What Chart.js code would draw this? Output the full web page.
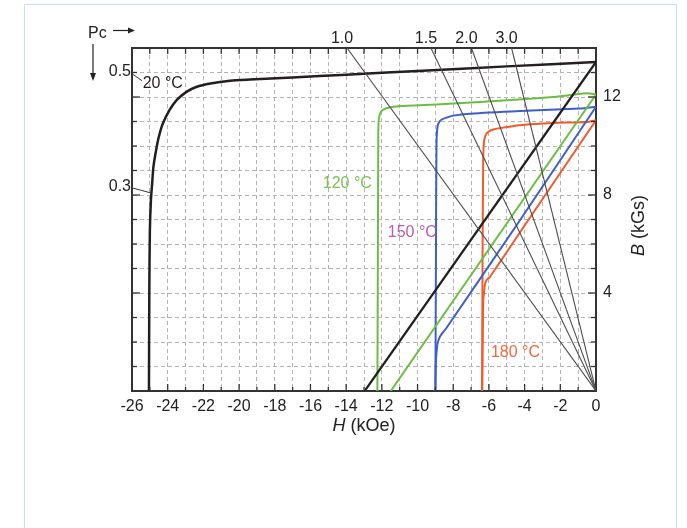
<!DOCTYPE html>
<html><head><meta charset="utf-8">
<script src="https://cdn.jsdelivr.net/npm/chart.js@4.4.1/dist/chart.umd.min.js"></script>
<style>
html,body{margin:0;padding:0;background:#fff;}
#wrap{position:relative;width:687px;height:528px;overflow:hidden;}
#frame{position:absolute;left:24px;top:4px;width:653px;height:600px;border:1px solid #cddfee;box-sizing:border-box;}
canvas{position:absolute;left:0;top:0;}
</style></head><body>
<div id="wrap"><div id="frame"></div><canvas id="c" width="687" height="528"></canvas></div>
<script>
// ---------- data (H in kOe, B in kGs) ----------
const H20  = [0, -5, -10, -14, -17, -19.4, -20.5, -21.6, -22.4, -22.95, -23.5, -23.9, -24.27, -24.5, -24.65, -24.8, -24.87, -24.94, -25.0, -25.03, -25.05];
const B20  = [13.43, 13.25, 13.06, 12.91, 12.8, 12.71, 12.66, 12.55, 12.41, 12.21, 11.87, 11.46, 10.92, 10.37, 9.83, 9.15, 8.47, 7.79, 6.5, 4.0, 0];
const H20n = [0, -12.96];
const B20n = [13.43, 0];

const H120  = [0, -0.5, -1.2, -2.4, -5, -8, -9.9, -11.2, -11.75, -12.05, -12.17, -12.2, -12.22, -12.25];
const B120  = [12.11, 12.15, 12.1, 12.0, 11.87, 11.73, 11.66, 11.61, 11.54, 11.4, 11.1, 10.5, 6, 0];
const H120n = [0, -11.5];
const B120n = [12.1, 0];

const H150  = [0, -0.9, -4.26, -7.07, -8.0, -8.37, -8.6, -8.75, -8.88, -8.94, -8.97, -9.0];
const B150  = [11.6, 11.53, 11.43, 11.32, 11.24, 11.16, 11.1, 11.02, 10.8, 9.96, 5, 0];
const H150n = [0, -4.26, -8.4, -8.62, -8.75, -8.88, -8.94, -8.98, -9.0];
const B150n = [11.6, 6.97, 2.55, 2.35, 2.21, 1.94, 1.54, 1.0, 0];

const H180  = [0, -0.52, -2.4, -4.26, -5.3, -5.76, -6.0, -6.13, -6.26, -6.32, -6.36, -6.38];
const B180  = [11.05, 10.98, 10.94, 10.85, 10.74, 10.67, 10.6, 10.51, 10.26, 9.5, 5, 0];
const H180n = [0, -3.8, -5.94, -6.13, -6.23, -6.28, -6.32, -6.35, -6.38];
const B180n = [11.05, 6.97, 4.66, 4.53, 4.32, 3.98, 3.71, 2.0, 0];

// permeance coefficient load lines: from origin to top edge
const PcLabels = ['1.0', '1.5', '2.0', '3.0'];
const PcTopH   = [-13.95, -9.25, -6.98, -4.73];
const PcTopB   = [14, 14, 14, 14];
const PcLeftLabels = ['0.5', '0.3'];
const PcLeftB      = [12.95, 8.25];

const tempLabels = ['20 °C', '120 °C', '150 °C', '180 °C'];
const tempLabelH = [-25.4, -15.31, -11.67, -5.89];
const tempLabelB = [12.56, 8.48, 6.48, 1.55];

const xTicksLabelled = [-26, -24, -22, -20, -18, -16, -14, -12, -10, -8, -6, -4, -2, 0];
const yTicksLabelled = [4, 8, 12];

// ---------- styles ----------
const FONT = '"Liberation Sans", Arial, Helvetica, sans-serif';
const C_BLACK = '#231f20', C_GREEN = '#6cbd45', C_BLUE = '#3f5fc8', C_RED = '#f15a29', C_PC = '#4d4d4d';
const labelColors = ['#231f20', '#7cc152', '#b55db5', '#f26a3c'];

function pts(hs, bs){ return hs.map((h, i) => ({x: h, y: bs[i]})); }
function curve(hs, bs, color, w, t){
  return {data: pts(hs, bs), borderColor: color, borderWidth: w, showLine: true, pointRadius: 0, tension: t, fill: false};
}

const datasets = [];
PcTopH.forEach((h, i) => datasets.push(curve([0, h], [0, PcTopB[i]], C_PC, 1.1, 0)));
datasets.push(curve(H20n, B20n, C_BLACK, 2.2, 0));
datasets.push(curve(H120n, B120n, C_GREEN, 2, 0));
datasets.push(curve(H150n, B150n, C_BLUE, 2, 0.2));
datasets.push(curve(H180n, B180n, C_RED, 2, 0.2));
datasets.push(curve(H20, B20, C_BLACK, 2.5, 0.25));
datasets.push(curve(H120, B120, C_GREEN, 2, 0.2));
datasets.push(curve(H150, B150, C_BLUE, 2, 0.2));
datasets.push(curve(H180, B180, C_RED, 2, 0.2));

function line(ctx, x1, y1, x2, y2){ ctx.beginPath(); ctx.moveTo(x1, y1); ctx.lineTo(x2, y2); ctx.stroke(); }

const decor = {
  id: 'decor',
  afterDraw(chart){
    const {ctx, chartArea: a, scales} = chart;
    const x = scales.x, y = scales.y;
    ctx.save();
    // inward tick marks
    ctx.strokeStyle = '#333'; ctx.lineWidth = 1.3;
    x.ticks.forEach(t => {
      if (t.value <= x.min || t.value >= x.max) return;
      const px = x.getPixelForValue(t.value);
      line(ctx, px, a.top, px, a.top + 6);
      line(ctx, px, a.bottom, px, a.bottom - (t.value % 2 === 0 ? 7 : 4));
    });
    y.ticks.forEach(t => {
      if (t.value <= y.min || t.value >= y.max) return;
      const py = y.getPixelForValue(t.value);
      const L = t.value % 4 === 0 ? 8 : 5;
      line(ctx, a.left, py, a.left + L, py);
      line(ctx, a.right, py, a.right - L, py);
    });
    // Pc labels on top
    ctx.fillStyle = '#222'; ctx.font = '16px ' + FONT; ctx.textAlign = 'center'; ctx.textBaseline = 'middle';
    PcLabels.forEach((s, i) => {
      ctx.fillText(s, x.getPixelForValue(PcTopH[i]) - 5, a.top - 9);
    });
    // Pc labels on left with leaders
    ctx.textAlign = 'right';
    PcLeftLabels.forEach((s, i) => {
      const py = y.getPixelForValue(PcLeftB[i]);
      ctx.fillText(s, a.left - 1, py - 2);
    });
    ctx.strokeStyle = '#333'; ctx.lineWidth = 1;
    let p = y.getPixelForValue(PcLeftB[0]);
    line(ctx, a.left, p, a.left + 10, p + 7);
    p = y.getPixelForValue(PcLeftB[1]);
    line(ctx, a.left, p - 1, x.getPixelForValue(-24.95), p + 4);
    // "Pc" and arrows
    ctx.textAlign = 'left';
    ctx.fillText('Pc', 88, 34);
    ctx.lineWidth = 1.2; ctx.strokeStyle = '#222';
    line(ctx, 113, 30.5, 130, 30.5);
    ctx.beginPath(); ctx.moveTo(135, 30.5); ctx.lineTo(128, 27.5); ctx.lineTo(128, 33.5); ctx.closePath(); ctx.fill();
    line(ctx, 93, 44, 93, 75);
    ctx.beginPath(); ctx.moveTo(93, 81); ctx.lineTo(90, 73); ctx.lineTo(96, 73); ctx.closePath(); ctx.fill();
    // temperature labels
    ctx.textAlign = 'left'; ctx.textBaseline = 'middle';
    tempLabels.forEach((s, i) => {
      ctx.fillStyle = labelColors[i];
      ctx.fillText(s, x.getPixelForValue(tempLabelH[i]), y.getPixelForValue(tempLabelB[i]));
    });
    // axis titles
    ctx.fillStyle = '#222';
    ctx.font = 'italic 18px ' + FONT;
    const wH = ctx.measureText('H').width;
    ctx.font = '18px ' + FONT;
    const wR = ctx.measureText(' (kOe)').width;
    const cx = (a.left + a.right) / 2, ty = a.bottom + 35;
    ctx.textAlign = 'left';
    ctx.font = 'italic 18px ' + FONT; ctx.fillText('H', cx - (wH + wR) / 2, ty);
    ctx.font = '18px ' + FONT; ctx.fillText(' (kOe)', cx - (wH + wR) / 2 + wH, ty);
    // right title rotated
    ctx.save();
    ctx.translate(a.right + 43, (a.top + a.bottom) / 2 + 6);
    ctx.rotate(-Math.PI / 2);
    ctx.font = 'italic 18px ' + FONT;
    const wB = ctx.measureText('B').width;
    ctx.font = '18px ' + FONT;
    const wG = ctx.measureText(' (kGs)').width;
    ctx.font = 'italic 18px ' + FONT; ctx.fillText('B', -(wB + wG) / 2, 0);
    ctx.font = '18px ' + FONT; ctx.fillText(' (kGs)', -(wB + wG) / 2 + wB, 0);
    ctx.restore();
    ctx.restore();
  }
};

const gridStyle = {color: '#b3b3b3', lineWidth: 1, drawTicks: false};
const borderStyle = {display: true, color: '#333', width: 2, dash: [4, 3]};

new Chart(document.getElementById('c'), {
  type: 'scatter',
  data: {datasets},
  options: {
    responsive: false, animation: false,
    layout: {padding: 0},
    plugins: {legend: {display: false}, tooltip: {enabled: false}},
    scales: {
      x: {type: 'linear', position: 'bottom', min: -26, max: 0,
          ticks: {stepSize: 1, autoSkip: false, maxRotation: 0, padding: 6, color: '#222',
                  font: {family: FONT, size: 16},
                  callback: v => xTicksLabelled.includes(v) ? String(v) : ''},
          grid: gridStyle, border: borderStyle,
          afterFit: s => { s.height = 137; }},
      xTop: {type: 'linear', position: 'top', min: -26, max: 0,
          ticks: {display: false}, grid: {display: false},
          border: {display: true, color: '#333', width: 2},
          afterFit: s => { s.height = 48; }},
      y: {type: 'linear', position: 'left', min: 0, max: 14,
          ticks: {display: false, stepSize: 1},
          grid: gridStyle, border: borderStyle,
          afterFit: s => { s.width = 132; }},
      yR: {type: 'linear', position: 'right', min: 0, max: 14,
          ticks: {stepSize: 1, autoSkip: false, padding: 7, color: '#222', font: {family: FONT, size: 16},
                  callback: v => yTicksLabelled.includes(v) ? String(v) : ''},
          grid: {display: false, drawTicks: false},
          border: {display: true, color: '#333', width: 2},
          afterFit: s => { s.width = 91; }}
    }
  },
  plugins: [decor]
});
</script>
</body></html>
